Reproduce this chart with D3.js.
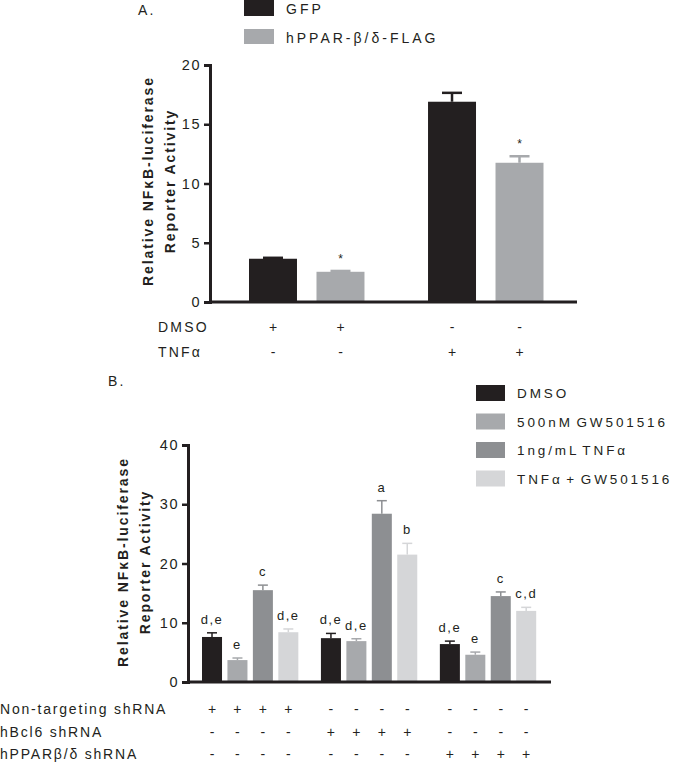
<!DOCTYPE html>
<html><head><meta charset="utf-8">
<script src="https://cdn.jsdelivr.net/npm/d3@7"></script>
<style>body{margin:0;background:#fff}svg text{font-family:"Liberation Sans",Arial,sans-serif;fill:#231f20}</style>
</head><body><svg id="c" width="682" height="766"></svg>
<script>
// Panel A data
const aSeries = ["GFP", "hPPAR-β/δ-FLAG"];
const aGroups = ["DMSO", "TNFα"];
const aValues = [[3.65, 2.55], [16.9, 11.75]];
const aErrors = [[0.08, 0.07], [0.75, 0.55]];
const aStars = [["", "*"], ["", "*"]];
const aTableRows = ["DMSO", "TNFα"];
const aTable = [["+", "+", "-", "-"], ["-", "-", "+", "+"]];
const aTicks = [0, 5, 10, 15, 20];
// Panel B data
const bSeries = ["DMSO", "500nM GW501516", "1ng/mL TNFα", "TNFα + GW501516"];
const bGroups = ["Non-targeting", "hBcl6", "hPPARβ/δ"];
const bValues = [[7.6, 3.7, 15.5, 8.4], [7.4, 6.9, 28.4, 21.5], [6.4, 4.6, 14.5, 12.0]];
const bErrors = [[0.7, 0.35, 0.85, 0.55], [0.8, 0.4, 2.2, 1.9], [0.5, 0.45, 0.7, 0.6]];
const bLetters = [["d,e", "e", "c", "d,e"], ["d,e", "d,e", "a", "b"], ["d,e", "e", "c", "c,d"]];
const bTableRows = ["Non-targeting shRNA", "hBcl6 shRNA", "hPPARβ/δ shRNA"];
const bTable = [
  ["+","+","+","+","-","-","-","-","-","-","-","-"],
  ["-","-","-","-","+","+","+","+","-","-","-","-"],
  ["-","-","-","-","-","-","-","-","+","+","+","+"]];
const bTicks = [0, 10, 20, 30, 40];

const aColors = ["#231f20", "#a7a9ac"];
const bColors = ["#231f20", "#a7a9ac", "#8d8f92", "#d5d6d8"];
const ink = "#231f20";
const svg = d3.select("#c");
const LS = "2.2px";

function yTitle(g, cx, cy, dx) {
  const t = g.append("g").attr("transform", `translate(${cx},${cy}) rotate(-90)`);
  t.append("text").attr("text-anchor", "middle").attr("y", 0).attr("font-weight", "bold")
    .attr("font-size", 14).attr("letter-spacing", "1.9px").text("Relative NFκB-luciferase");
  t.append("text").attr("text-anchor", "middle").attr("y", dx).attr("font-weight", "bold")
    .attr("font-size", 14).attr("letter-spacing", "1.9px").text("Reporter Activity");
}

function axisY(g, y, x0, ticks) {
  const ax = g.append("g").attr("transform", `translate(${x0},0)`)
    .call(d3.axisLeft(y).tickValues(ticks).tickSize(6).tickPadding(3));
  ax.select(".domain").attr("stroke", ink).attr("stroke-width", 3);
  ax.selectAll(".tick line").attr("stroke", ink).attr("stroke-width", 2.5);
  ax.selectAll(".tick text").attr("font-size", 14.5).attr("letter-spacing", "1.5px")
    .attr("fill", ink).style("font-family", "Liberation Sans, Arial, sans-serif");
}

// ---------- Panel A ----------
{
  const g = svg.append("g");
  const y = d3.scaleLinear().domain([0, 20]).range([302, 65]);
  const x0 = d3.scaleBand().domain(aGroups).range([249, 543.5]).paddingInner(0.355).paddingOuter(0);
  const x1 = d3.scaleBand().domain(aSeries).range([0, x0.bandwidth()]).paddingInner(0.289).paddingOuter(0);
  g.append("text").attr("x", 138).attr("y", 15).attr("font-size", 14).attr("letter-spacing", LS).text("A.");
  aSeries.forEach((s, i) => {
    g.append("rect").attr("x", 244).attr("y", i ? 29 : 0).attr("width", 30).attr("height", i ? 15 : 16).attr("fill", aColors[i]);
    g.append("text").attr("x", 286).attr("y", i ? 43 : 14).attr("font-size", 14).attr("letter-spacing", "3px").text(s);
  });
  aGroups.forEach((grp, gi) => {
    aSeries.forEach((s, si) => {
      const bx = x0(grp) + x1(s), bw = x1.bandwidth(), v = aValues[gi][si], e = aErrors[gi][si];
      const cx = bx + bw / 2;
      g.append("line").attr("x1", cx).attr("x2", cx).attr("y1", y(v)).attr("y2", y(v + e)).attr("stroke", aColors[si]).attr("stroke-width", 2.5);
      g.append("line").attr("x1", cx - 10).attr("x2", cx + 10).attr("y1", y(v + e)).attr("y2", y(v + e)).attr("stroke", aColors[si]).attr("stroke-width", 2.5);
      g.append("rect").attr("x", bx).attr("y", y(v)).attr("width", bw).attr("height", y(0) - y(v)).attr("fill", aColors[si]);
      if (aStars[gi][si]) g.append("text").attr("x", cx).attr("y", y(v + e) - 8).attr("text-anchor", "middle").attr("font-size", 12).text(aStars[gi][si]);
      aTable.forEach((row, ri) => {
        g.append("text").attr("x", cx).attr("y", 332 + ri * 25).attr("text-anchor", "middle").attr("font-size", 14).text(row[gi * 2 + si]);
      });
    });
  });
  axisY(g, y, 210, aTicks);
  g.append("line").attr("x1", 209).attr("x2", 577).attr("y1", y(0)).attr("y2", y(0)).attr("stroke", ink).attr("stroke-width", 3);
  aTableRows.forEach((r, ri) => g.append("text").attr("x", 158).attr("y", 332 + ri * 25).attr("font-size", 14).attr("letter-spacing", LS).text(r));
  yTitle(g, 153, 181, 22);
}

// ---------- Panel B ----------
{
  const g = svg.append("g");
  const y = d3.scaleLinear().domain([0, 40]).range([682, 445]);
  const x0 = d3.scaleBand().domain(bGroups).range([202, 536.2]).paddingInner(0.19).paddingOuter(0);
  const x1 = d3.scaleBand().domain(bSeries).range([0, x0.bandwidth()]).paddingInner(0.213).paddingOuter(0);
  g.append("text").attr("x", 108).attr("y", 386).attr("font-size", 14).attr("letter-spacing", LS).text("B.");
  bSeries.forEach((s, i) => {
    g.append("rect").attr("x", 476).attr("y", 385 + i * 28.5).attr("width", 29).attr("height", 16).attr("fill", bColors[i]);
    g.append("text").attr("x", 517).attr("y", 398 + i * 28.5).attr("font-size", 13.5).attr("letter-spacing", "2.9px")
      .attr("word-spacing", "-3px").text(s);
  });
  bGroups.forEach((grp, gi) => {
    bSeries.forEach((s, si) => {
      const bx = x0(grp) + x1(s), bw = x1.bandwidth(), v = bValues[gi][si], e = bErrors[gi][si];
      const cx = bx + bw / 2;
      g.append("line").attr("x1", cx).attr("x2", cx).attr("y1", y(v)).attr("y2", y(v + e)).attr("stroke", bColors[si]).attr("stroke-width", 1.5);
      g.append("line").attr("x1", cx - 5).attr("x2", cx + 5).attr("y1", y(v + e)).attr("y2", y(v + e)).attr("stroke", bColors[si]).attr("stroke-width", 1.5);
      g.append("rect").attr("x", bx).attr("y", y(v)).attr("width", bw).attr("height", y(0) - y(v)).attr("fill", bColors[si]);
      g.append("text").attr("x", cx).attr("y", y(v + e) - 9).attr("text-anchor", "middle").attr("font-size", 13).attr("letter-spacing", "1.5px").text(bLetters[gi][si]);
      bTable.forEach((row, ri) => {
        g.append("text").attr("x", cx).attr("y", 714 + ri * 22.5).attr("text-anchor", "middle").attr("font-size", 14).text(row[gi * 4 + si]);
      });
    });
  });
  axisY(g, y, 188, bTicks);
  g.append("line").attr("x1", 187).attr("x2", 551).attr("y1", y(0)).attr("y2", y(0)).attr("stroke", ink).attr("stroke-width", 3);
  bTableRows.forEach((r, ri) => g.append("text").attr("x", 0).attr("y", 714 + ri * 22.5).attr("font-size", 14).attr("letter-spacing", "1.8px").text(r));
  yTitle(g, 128, 562, 22);
}
</script></body></html>
